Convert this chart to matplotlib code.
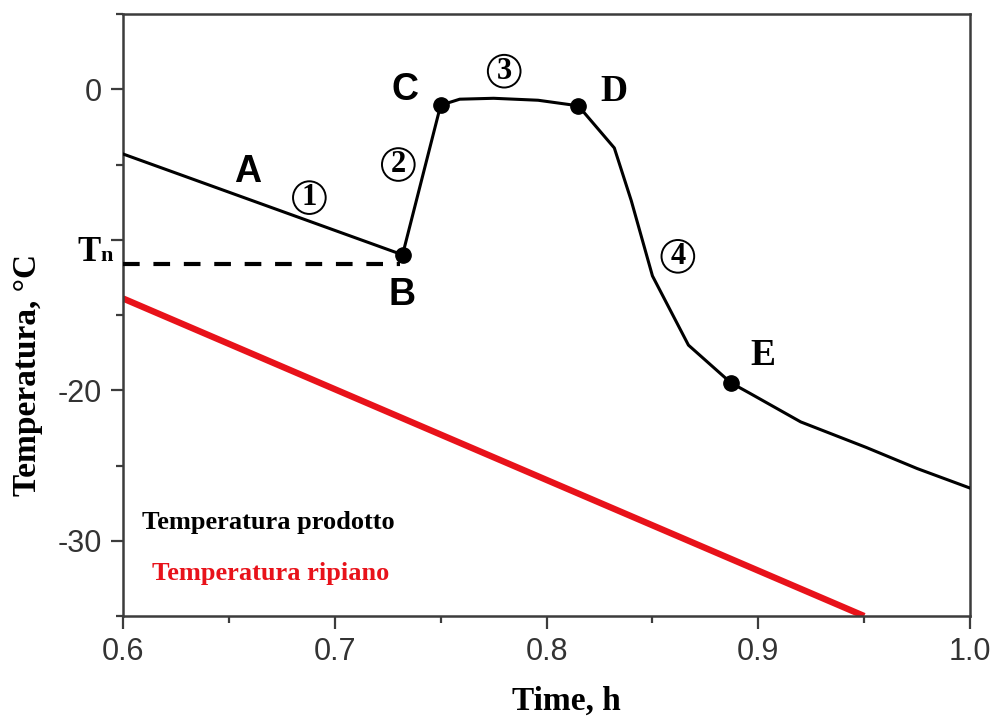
import matplotlib
matplotlib.use("Agg")
import matplotlib.pyplot as plt
from matplotlib.ticker import FixedLocator, FixedFormatter, MultipleLocator

# product temperature during freezing (time in h, temperature in C)
time_product = [0.600, 0.732, 0.750, 0.759, 0.775, 0.796, 0.815, 0.832,
                0.840, 0.850, 0.867, 0.887, 0.896, 0.920, 0.951, 0.975, 1.000]
temp_product = [-4.3, -11.0, -1.06, -0.66, -0.6, -0.73, -1.1, -3.9,
                -7.4, -12.4, -17.0, -19.5, -20.2, -22.1, -23.8, -25.2, -26.5]

# characteristic points B, C, D, E on the product curve
key_names = ["B", "C", "D", "E"]
key_index = [1, 2, 6, 11]

# shelf temperature ramp
time_shelf = [0.60, 0.95]
temp_shelf = [-13.9, -35.0]

# nucleation temperature level
tn_temp = -11.6
tn_time_end = 0.731

x_ticks = [0.6, 0.7, 0.8, 0.9, 1.0]
x_tick_labels = ["0.6", "0.7", "0.8", "0.9", "1.0"]
y_ticks = [-30, -20, -10, 0]
y_tick_labels = ["-30", "-20", "", "0"]

SERIF = dict(family="Liberation Serif", weight="bold")
SANS = dict(family="Liberation Sans", weight="bold")
AXIS_GREY = "#3c3c3c"
RED = "#e8121a"

fig = plt.figure(figsize=(9.96, 7.18), dpi=100)
ax = fig.add_axes([0.1235, 0.142, 0.8505, 0.8385])

ax.plot(time_shelf, temp_shelf, color=RED, lw=4.6, solid_capstyle="butt", zorder=2)
ax.plot(time_product, temp_product, color="black", lw=2.2, zorder=3)
ax.plot([time_product[i] for i in key_index], [temp_product[i] for i in key_index],
        "o", color="black", ms=11, zorder=4)
ax.plot([0.6, tn_time_end], [tn_temp, tn_temp], color="black", lw=3,
        dashes=(4.0, 3.3), clip_on=False, zorder=3)

ax.set_xlim(0.6, 1.0)
ax.set_ylim(-35, 5)

ax.xaxis.set_major_locator(FixedLocator(x_ticks))
ax.xaxis.set_major_formatter(FixedFormatter(x_tick_labels))
ax.xaxis.set_minor_locator(MultipleLocator(0.05))
ax.yaxis.set_major_locator(FixedLocator(y_ticks))
ax.yaxis.set_major_formatter(FixedFormatter(y_tick_labels))
ax.yaxis.set_minor_locator(MultipleLocator(5))

ax.tick_params(which="both", direction="out", color=AXIS_GREY, width=1.6,
               labelcolor="#333333", labelsize=22, pad=6)
ax.tick_params(which="major", length=9)
ax.tick_params(which="minor", length=5)
for lab in ax.get_xticklabels() + ax.get_yticklabels():
    lab.set_family("Liberation Sans")
for side in ["left", "right", "top", "bottom"]:
    ax.spines[side].set_color(AXIS_GREY)
    ax.spines[side].set_linewidth(1.8)

ax.set_xlabel("Time, h", fontsize=24, **SERIF)
ax.xaxis.set_label_coords(0.523, -0.115)
ax.set_ylabel("Temperatura, °C", fontsize=24, **SERIF)
ax.yaxis.set_label_coords(-0.094, 0.40)

# Tn label next to the axis
ax.text(0.5892, -11.4, "T", fontsize=25, ha="right", va="baseline", clip_on=False, **SERIF)
ax.text(0.5894, -11.4, "n", fontsize=16, ha="left", va="baseline", clip_on=False, **SERIF)

# phase letters
ax.text(0.659, -5.5, "A", fontsize=27, ha="center", va="center", **SANS)
ax.text(0.732, -13.7, "B", fontsize=27, ha="center", va="center", **SANS)
ax.text(0.733, -0.05, "C", fontsize=27, ha="center", va="center", **SANS)
ax.text(0.832, -0.15, "D", fontsize=27, ha="center", va="center", **SERIF)
ax.text(0.902, -17.7, "E", fontsize=27, ha="center", va="center", **SERIF)

# circled stage numbers
circle = dict(boxstyle="circle,pad=0.06", fc="none", ec="black", lw=1.4)
for label, tx, ty in [("1", 0.688, -7.2), ("2", 0.730, -5.0),
                      ("3", 0.780, 1.2), ("4", 0.862, -11.1)]:
    ax.text(tx, ty, label, fontsize=22, ha="center", va="center",
            bbox=circle, **SERIF)

ax.text(0.609, -28.8, "Temperatura prodotto", fontsize=19, color="black",
        ha="left", va="center", **SERIF)
ax.text(0.6135, -32.15, "Temperatura ripiano", fontsize=19, color=RED,
        ha="left", va="center", **SERIF)

fig.savefig("out.png", dpi=100)
